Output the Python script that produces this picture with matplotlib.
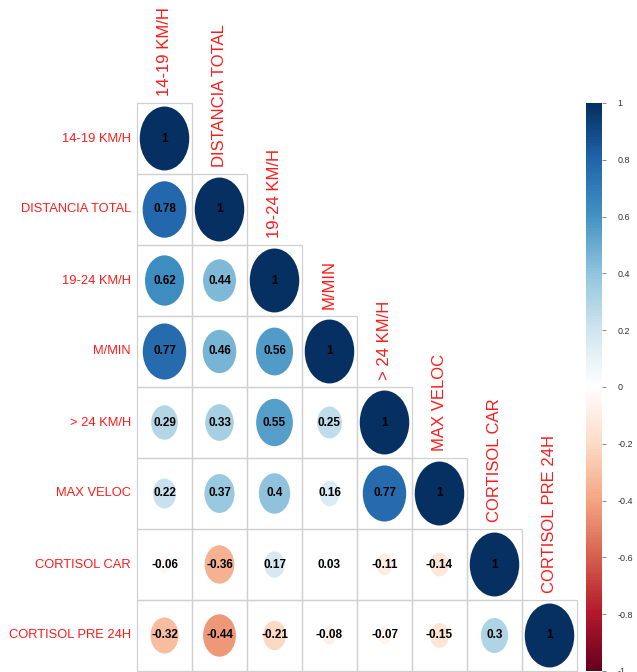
import matplotlib.pyplot as plt
import numpy as np
from matplotlib.colors import LinearSegmentedColormap, Normalize
from matplotlib.patches import Ellipse, Rectangle
from matplotlib.colorbar import ColorbarBase

plt.rcParams['font.family'] = ['Liberation Sans', 'DejaVu Sans']

labels = ["14-19 KM/H", "DISTANCIA TOTAL", "19-24 KM/H", "M/MIN",
          "> 24 KM/H", "MAX VELOC", "CORTISOL CAR", "CORTISOL PRE 24H"]

# lower triangle of the correlation matrix, row by row
corr_rows = [
    [1],
    [0.78, 1],
    [0.62, 0.44, 1],
    [0.77, 0.46, 0.56, 1],
    [0.29, 0.33, 0.55, 0.25, 1],
    [0.22, 0.37, 0.4, 0.16, 0.77, 1],
    [-0.06, -0.36, 0.17, 0.03, -0.11, -0.14, 1],
    [-0.32, -0.44, -0.21, -0.08, -0.07, -0.15, 0.3, 1],
]

cbar_ticks = [-1, -0.8, -0.6, -0.4, -0.2, 0, 0.2, 0.4, 0.6, 0.8, 1]

rdbu = ["#67001F", "#B2182B", "#D6604D", "#F4A582", "#FDDBC7", "#FFFFFF",
        "#D1E5F0", "#92C5DE", "#4393C3", "#2166AC", "#053061"]
cmap = LinearSegmentedColormap.from_list("corr_rdbu", rdbu, N=200)
norm = Normalize(vmin=-1, vmax=1)

W, H = 637, 672
fig = plt.figure(figsize=(W / 100, H / 100), dpi=100)

# grid area in pixels
x0, x1, y0, y1 = 137, 577, 103, 671
ax = fig.add_axes([x0 / W, 1 - y1 / H, (x1 - x0) / W, (y1 - y0) / H])
n = len(labels)
ax.set_xlim(0, n)
ax.set_ylim(n, 0)
ax.axis("off")

for i, row in enumerate(corr_rows):
    for j, r in enumerate(row):
        ax.add_patch(Rectangle((j, i), 1, 1, fill=False, edgecolor="#d0d0d0",
                               linewidth=0.9, clip_on=False))
        d = 0.9 * np.sqrt(abs(r))
        ax.add_patch(Ellipse((j + 0.5, i + 0.5), d, d, facecolor=cmap(norm(r)),
                             edgecolor="none"))
        txt = "1" if r == 1 else ("%.2f" % r).rstrip("0")
        ax.text(j + 0.5, i + 0.5, txt, ha="center", va="center",
                fontsize=8.5, fontweight="bold", color="black")

# row labels on the left, column labels above the diagonal
for i, lab in enumerate(labels):
    ax.text(-0.11, i + 0.5, lab, ha="right", va="center", color="#ff1a1a",
            fontsize=9.3, clip_on=False)
    ax.text(i + 0.5, i - 0.1, lab, ha="center", va="bottom", rotation=90,
            color="#ff1a1a", fontsize=12, clip_on=False)

# colour legend
cax = fig.add_axes([586 / W, 1 - y1 / H, 16 / W, (y1 - y0) / H])
cb = ColorbarBase(cax, cmap=cmap, norm=norm, orientation="vertical")
cb.outline.set_visible(False)
cb.set_ticks(cbar_ticks)
cb.set_ticklabels(["%g" % t for t in cbar_ticks])
cax.tick_params(length=3, width=0.6, color="#777777", labelsize=6.5,
                labelcolor="#333333", pad=8)
cax.axvline(1, color="#999999", linewidth=0.6)

fig.savefig("out.png", dpi=100)
